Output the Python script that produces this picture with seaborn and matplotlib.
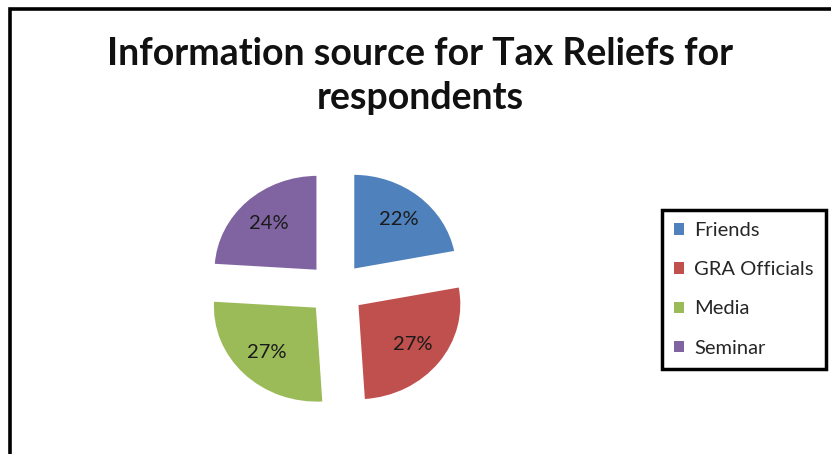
import matplotlib
matplotlib.use("Agg")
import matplotlib.pyplot as plt
import seaborn as sns
from matplotlib.patches import Rectangle, Patch

categories = ["Friends", "GRA Officials", "Media", "Seminar"]
values = [22, 27, 27, 24]
colors = ["#4F81BD", "#C0504D", "#9BBB59", "#8064A2"]
title = "Information source for Tax Reliefs for\nrespondents"

sns.set_theme(style="white")
plt.rcParams["font.family"] = ["Lato", "DejaVu Sans"]

W, H = 831, 454
fig = plt.figure(figsize=(W / 100, H / 100), dpi=100)
fig.patch.set_facecolor("white")

# pie axes: centre (336,289) px, x-radius 104 px, y-radius 96 px
cx, cy, rx, ry = 336, 289, 104, 96
span = 1.6
ax = fig.add_axes([(cx - span * rx) / W, (H - cy - span * ry) / H,
                   2 * span * rx / W, 2 * span * ry / H])
wedges, texts, autotexts = ax.pie(
    values, colors=colors, startangle=90, counterclock=False,
    explode=[0.26] * len(values), autopct="%1.0f%%", pctdistance=0.68,
    wedgeprops=dict(edgecolor="white", linewidth=1.5),
    textprops=dict(fontsize=14.5, color="#1a1a1a"))
ax.set_xlim(-span, span)
ax.set_ylim(-span, span)
ax.set_aspect("auto")
ax.axis("off")

fig.text(420 / W, 1 - 76 / H, title, ha="center", va="center",
         fontsize=27, fontweight="bold", color="#111111", linespacing=1.38)

handles = [Patch(facecolor=c, edgecolor="none") for c in colors]
leg = fig.legend(handles, categories, loc="upper left",
                 bbox_to_anchor=(662 / W, 1 - 210 / H),
                 frameon=True, fancybox=False, framealpha=1, fontsize=14.5,
                 handlelength=0.5, handleheight=0.5, handletextpad=0.5,
                 labelspacing=1.1, borderpad=0.6, borderaxespad=0)
leg.get_frame().set_edgecolor("black")
leg.get_frame().set_linewidth(2.5)

fig.add_artist(Rectangle((10 / W, -0.2), 1.2, 1.2 - 9 / H,
                         transform=fig.transFigure, fill=False,
                         edgecolor="black", linewidth=2.6, clip_on=False))

fig.savefig("out.png", dpi=100, facecolor="white")
